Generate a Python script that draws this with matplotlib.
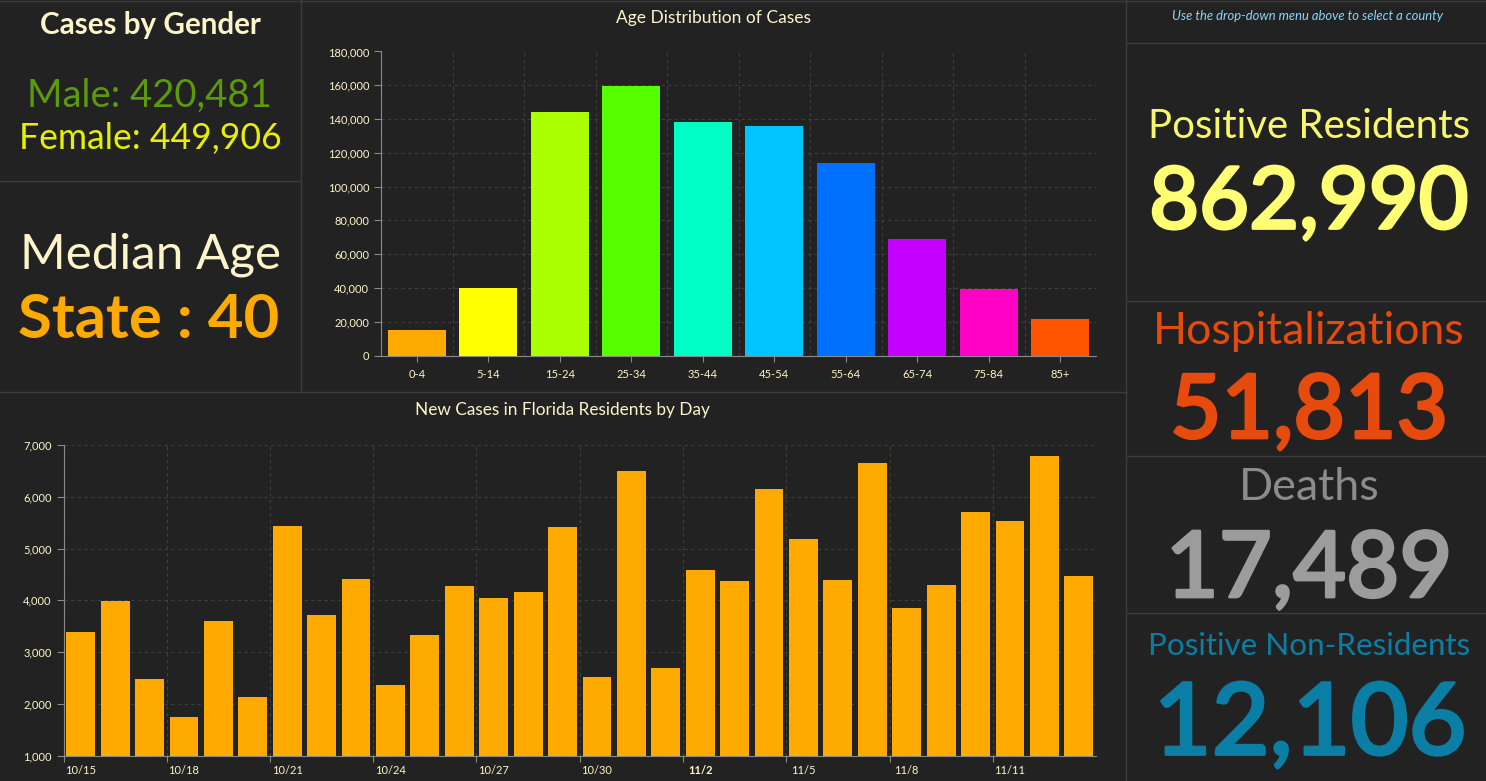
import matplotlib
matplotlib.use("Agg")
import matplotlib.pyplot as plt
import matplotlib.patheffects as pe
from matplotlib.lines import Line2D
from matplotlib.ticker import FuncFormatter

W, H = 1486, 781
BG = "#222222"
EDGE = "#3c3c3c"
GRID = "#3f3f3f"
AXIS = "#8a8a8a"
TEXT = "#fdf5c9"

age_groups = ["0-4", "5-14", "15-24", "25-34", "35-44", "45-54", "55-64", "65-74", "75-84", "85+"]
age_cases = [15000, 40000, 144000, 159500, 138000, 136000, 114000, 69000, 39500, 21500]
age_colors = ["#ffaa00", "#ffff00", "#aaff00", "#55ff00", "#00ffc5", "#00c5ff",
              "#0070ff", "#c500ff", "#ff00c5", "#ff5500"]
day_labels = ["10/15", "10/18", "10/21", "10/24", "10/27", "10/30", "11/2", "11/5", "11/8", "11/11"]
day_cases = [3386, 3985, 2470, 1745, 3600, 2140, 5435, 3715, 4410, 2360,
             3330, 4275, 4045, 4160, 5415, 2510, 6495, 2690, 4580, 4370,
             6150, 5180, 4390, 6650, 3850, 4295, 5700, 5530, 6785, 4470]

plt.rcParams["font.family"] = ["Lato", "DejaVu Sans"]
fig = plt.figure(figsize=(W / 100, H / 100), dpi=100, facecolor=BG)


def label(x, y, s, size, color, weight="normal", style="normal", stroke=0):
    t = fig.text(x / W, 1 - y / H, s, fontsize=size, color=color, weight=weight, style=style,
                 ha="center", va="center")
    # no heavier Lato cut than medium below bold, so thicken the big numbers a bit
    if stroke:
        t.set_path_effects([pe.withStroke(linewidth=stroke, foreground=color)])


def rule(x0, y0, x1, y1):
    fig.add_artist(Line2D([x0 / W, x1 / W], [1 - y0 / H, 1 - y1 / H], color=EDGE, lw=1))


def panel_axes(left, top, right, bottom):
    ax = fig.add_axes([left / W, 1 - bottom / H, (right - left) / W, (bottom - top) / H])
    ax.set_facecolor(BG)
    for side in ["top", "right"]:
        ax.spines[side].set_visible(False)
    for side in ["left", "bottom"]:
        ax.spines[side].set_color(AXIS)
    ax.grid(True, color=GRID, ls=(0, (3, 3)), lw=0.8)
    ax.set_axisbelow(True)
    ax.tick_params(colors=AXIS, labelcolor=TEXT, labelsize=8, length=5, width=0.8)
    ax.yaxis.set_major_formatter(FuncFormatter(lambda v, _: f"{int(v):,}"))
    return ax


# panel borders
rule(301, 0, 301, 392)
rule(0, 181, 301, 181)
rule(0, 392, 1126, 392)
rule(1126, 0, 1126, 781)
rule(1126, 43, 1486, 43)
rule(1126, 301, 1486, 301)
rule(1126, 456, 1486, 456)
rule(1126, 613, 1486, 613)
rule(0, 0.5, 1486, 0.5)

# age chart
ax1 = panel_axes(381, 51.5, 1096, 355.5)
x1 = range(len(age_cases))
ax1.bar(x1, age_cases, width=0.81, color=age_colors, zorder=3)
ax1.set_xlim(-0.5, len(age_cases) - 0.5)
ax1.set_ylim(0, 180000)
ax1.set_yticks(range(0, 180001, 20000))
ax1.set_xticks(list(x1))
ax1.set_xticklabels(age_groups)
ax1.set_xticks([i - 0.5 for i in x1] + [len(age_cases) - 0.5], minor=True)
ax1.grid(False, axis="x", which="major")
ax1.grid(True, axis="x", which="minor", color=GRID, ls=(0, (3, 3)), lw=0.8)
ax1.tick_params(axis="x", which="minor", length=0)
ax1.tick_params(axis="x", pad=6, length=4)

# daily chart
ax2 = panel_axes(63.5, 445, 1096, 755.5)
x2 = range(len(day_cases))
ax2.bar(x2, day_cases, width=0.84, color="#ffaa00", zorder=3)
ax2.set_xlim(-0.5, len(day_cases) - 0.5)
ax2.set_ylim(1000, 7000)
ax2.set_yticks(range(1000, 7001, 1000))
edges = [i - 0.5 for i in range(0, len(day_cases), 3)]
ax2.set_xticks(edges)
ax2.set_xticklabels([])
ax2.set_xticks([e + 0.5 for e in edges], minor=True)
ax2.set_xticklabels(day_labels, minor=True)
ax2.tick_params(axis="x", which="major", length=4)
ax2.tick_params(axis="x", which="minor", length=0, labelsize=8, labelcolor=TEXT, pad=7)
for t in ax2.xaxis.get_minorticklabels():
    if t.get_text() == "11/2":
        t.set_fontweight("bold")

# chart titles
label(714, 18, "Age Distribution of Cases", 12.5, TEXT)
label(562, 410, "New Cases in Florida Residents by Day", 12.4, TEXT)

# left panels
label(150, 25, "Cases by Gender", 21.3, TEXT, weight="bold")
label(149, 96, "Male: 420,481", 27.5, "#5c9a0c")
label(150, 139, "Female: 449,906", 25.6, "#e6f000")
label(150, 255, "Median Age", 35.6, TEXT)
label(149, 320, "State : 40", 44.4, "#ffaa00", weight="bold")

# right panels
label(1308, 16, "Use the drop-down menu above to select a county", 9.4, "#8fd3f5", style="italic")
label(1309, 127, "Positive Residents", 29, "#f7f76a")
label(1309, 204, "862,990", 62, "#ffff73", weight="medium", stroke=2)
label(1309, 332, "Hospitalizations", 32, "#e64a0c")
label(1309, 413, "51,813", 64, "#e64a0c", weight="medium", stroke=2)
label(1309, 487, "Deaths", 32.3, "#8c8c8c")
label(1309, 571, "17,489", 66, "#9c9c9c", weight="medium", stroke=2)
label(1309, 646, "Positive Non-Residents", 22.6, "#0a7ea4")
label(1310, 726, "12,106", 72, "#0a7ea4", weight="medium", stroke=2)

fig.savefig("out.png", dpi=100, facecolor=BG)
